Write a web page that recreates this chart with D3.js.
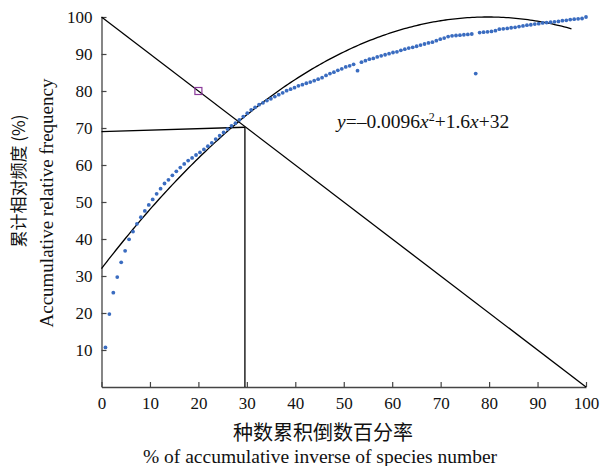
<!DOCTYPE html>
<html>
<head>
<meta charset="utf-8">
<script src="https://cdn.jsdelivr.net/npm/d3@7"></script>
<style>
  body { margin: 0; background: #fff; }
  svg text { font-family: "Times New Roman", "Liberation Serif", "DejaVu Serif", serif; }
  svg text.cjk { font-family: "Noto Sans CJK SC", sans-serif; }
</style>
</head>
<body>
<svg id="chart" width="613" height="466"></svg>
<script>
// accumulative relative frequency of each species, in rank order (123 species)
const freqValues = [
  10.7, 19.7, 25.5, 29.7, 33.7, 36.8, 39.9, 42.0, 44.1, 45.9,
  47.6, 49.2, 50.7, 52.2, 53.6, 55.0, 56.0, 57.2, 58.3, 59.3,
  60.3, 61.2, 61.9, 62.7, 63.4, 64.2, 65.1, 66.0, 67.0, 67.9,
  68.8, 69.7, 70.6, 71.3, 72.2, 73.1, 74.0, 74.9, 75.6, 76.3,
  76.8, 77.4, 77.9, 78.5, 79.0, 79.5, 80.1, 80.5, 80.9, 81.4,
  81.7, 82.1, 82.4, 82.8, 83.2, 83.6, 84.2, 84.7, 85.1, 85.6,
  86.0, 86.5, 86.8, 87.2, 85.5, 87.8, 88.2, 88.6, 88.8, 89.2,
  89.5, 89.8, 90.1, 90.4, 90.6, 91.0, 91.3, 91.6, 91.8, 92.1,
  92.4, 92.7, 93.0, 93.2, 93.6, 94.0, 94.3, 94.7, 94.9, 95.0,
  95.1, 95.2, 95.3, 95.4, 84.7, 95.8, 95.9, 96.0, 96.1, 96.3,
  96.7, 96.8, 96.9, 97.1, 97.2, 97.4, 97.6, 97.8, 97.9, 98.1,
  98.2, 98.4, 98.5, 98.6, 98.7, 98.8, 99.0, 99.1, 99.3, 99.4,
  99.5, 99.6, 100.0
];

// fitted curve coefficients as drawn (a*x^2 + b*x + c), and its x range
const curveCoef = [-0.0107, 1.706, 32];
const curveRange = [0, 97];

// reference lines
const diagLine = [[0, 100], [100, 0]];
const horizLine = [[0, 69], [29.6, 70.2]];
const vertLine = [[29.6, 70.2], [29.6, 0]];
const markerPoint = [20, 80];

const xTicks = [0, 10, 20, 30, 40, 50, 60, 70, 80, 90, 100];
const yTicks = [10, 20, 30, 40, 50, 60, 70, 80, 90, 100];

const svg = d3.select('#chart');

const x = d3.scaleLinear().domain([0, 100]).range([101.5, 586]);
const y = d3.scaleLinear().domain([0, 100]).range([387, 17]);

const n = freqValues.length;
const points = freqValues.map((v, i) => ({ x: (i + 1) * 100 / n, y: v }));

// axes
const xAxis = svg.append('g')
  .attr('transform', `translate(0,${y(0)})`)
  .call(d3.axisBottom(x).tickValues(xTicks).tickSize(-5).tickSizeOuter(0).tickPadding(10));
const yAxis = svg.append('g')
  .attr('transform', `translate(${x(0)},0)`)
  .call(d3.axisLeft(y).tickValues(yTicks).tickSize(-5).tickSizeOuter(0).tickPadding(9));

[xAxis, yAxis].forEach(g => {
  g.attr('font-family', null);
  g.select('.domain').attr('stroke', '#444').attr('stroke-width', 1.3);
  g.selectAll('.tick line').attr('stroke', '#444').attr('stroke-width', 1.2);
  g.selectAll('.tick text')
    .attr('fill', '#111')
    .style('font-size', '17px');
});

const line = d3.line().x(d => x(d[0])).y(d => y(d[1]));

// straight reference lines
[diagLine, horizLine, vertLine].forEach(pts => {
  svg.append('path')
    .attr('d', line(pts))
    .attr('fill', 'none')
    .attr('stroke', '#000')
    .attr('stroke-width', 1.3);
});

// fitted parabola
const curveX = d3.range(curveRange[0], curveRange[1] + 0.5, 0.5);
svg.append('path')
  .datum(curveX.map(t => [t, curveCoef[0] * t * t + curveCoef[1] * t + curveCoef[2]]))
  .attr('d', line)
  .attr('fill', 'none')
  .attr('stroke', '#000')
  .attr('stroke-width', 1.3);

// species dots
svg.selectAll('.dot')
  .data(points)
  .enter().append('circle')
  .attr('class', 'dot')
  .attr('cx', d => x(d.x))
  .attr('cy', d => y(d.y))
  .attr('r', 1.9)
  .attr('fill', '#3a6cc0');

// marker square
svg.append('rect')
  .attr('x', x(markerPoint[0]) - 3.5)
  .attr('y', y(markerPoint[1]) - 3.5)
  .attr('width', 7)
  .attr('height', 7)
  .attr('fill', 'none')
  .attr('stroke', '#8b3a9b')
  .attr('stroke-width', 1.2);

// equation label
const eq = svg.append('text')
  .attr('x', 337)
  .attr('y', 128)
  .style('font-size', '19.5px')
  .attr('fill', '#111');
eq.append('tspan').style('font-style', 'italic').text('y');
eq.append('tspan').text('=\u20130.0096');
eq.append('tspan').style('font-style', 'italic').text('x');
eq.append('tspan').attr('dy', -7).style('font-size', '12px').text('2');
eq.append('tspan').attr('dy', 7).text('+1.6');
eq.append('tspan').style('font-style', 'italic').text('x');
eq.append('tspan').text('+32');

// axis titles
svg.append('text')
  .attr('class', 'cjk')
  .attr('x', 323).attr('y', 440)
  .attr('text-anchor', 'middle')
  .style('font-size', '20px')
  .attr('fill', '#111')
  .text('种数累积倒数百分率');
svg.append('text')
  .attr('x', 320).attr('y', 463)
  .attr('text-anchor', 'middle')
  .style('font-size', '19.5px')
  .attr('fill', '#111')
  .text('% of accumulative inverse of species number');

svg.append('text')
  .attr('class', 'cjk')
  .attr('transform', 'translate(25,181) rotate(-90)')
  .attr('text-anchor', 'middle')
  .style('font-size', '17px')
  .attr('fill', '#111')
  .text('累计相对频度 (%)');
svg.append('text')
  .attr('transform', 'translate(53,203) rotate(-90)')
  .attr('text-anchor', 'middle')
  .style('font-size', '19px')
  .attr('fill', '#111')
  .text('Accumulative relative frequency');
</script>
</body>
</html>
